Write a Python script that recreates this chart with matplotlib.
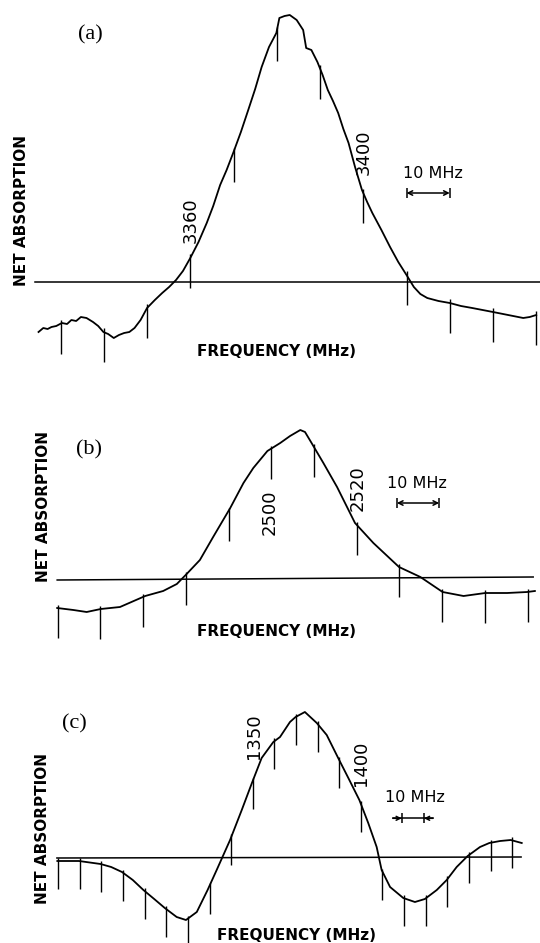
import matplotlib
matplotlib.use("Agg")
import matplotlib.pyplot as plt
import numpy as np

# ---- data (frequency in MHz, net absorption in arb. units) ----
# panel (a)
freq_a = [3324.9, 3326.0, 3327.0, 3327.9, 3329.0, 3330.3, 3331.5, 3332.5, 3333.6, 3334.7,
          3336.0, 3337.5, 3338.7, 3339.9, 3341.0, 3342.3, 3343.5, 3344.7, 3345.9, 3347.1,
          3348.5, 3350.0, 3351.8, 3353.5, 3355.1, 3356.7, 3358.3, 3360.0, 3361.9, 3363.8,
          3365.3, 3366.9, 3368.4, 3370.0, 3371.7, 3373.4, 3375.0, 3376.5, 3378.2, 3379.9,
          3380.6, 3381.8, 3383.0, 3384.6, 3386.1, 3386.8, 3388.0, 3389.4, 3390.6, 3391.8,
          3393.0, 3394.2, 3395.4, 3396.6, 3398.1, 3399.7, 3400.9, 3402.1, 3404.2, 3406.2,
          3408.1, 3410.0, 3411.7, 3413.2, 3414.8, 3417.4, 3420.0, 3422.6, 3425.2, 3427.6,
          3430.0, 3433.5, 3437.0, 3438.5, 3440.0]
abs_a = [-50, -46, -47, -45, -44, -41, -42, -38, -39, -35,
         -36, -40, -44, -50, -52, -56, -53, -51, -50, -46,
         -38, -26, -18, -11, -5, 2, 11, 24, 40, 59,
         76, 97, 112, 130, 150, 172, 193, 215, 235, 249,
         264, 266, 267, 262, 252, 234, 232, 220, 207, 192,
         181, 169, 153, 139, 115, 92, 80, 69, 52, 35,
         20, 7, -5, -12, -16, -19, -21, -24, -26, -28,
         -30, -33, -36, -35, -33]
marks_a = [3330, 3340, 3350, 3360, 3370, 3380, 3390, 3400, 3410, 3420, 3430, 3440]
base_a = ([3324.1, 3441.0], [0, 0])

# panel (b)
freq_b = [2449.9, 2453.7, 2456.8, 2460.1, 2464.6, 2470.5, 2474.7, 2477.9, 2480.2, 2483.3,
          2486.4, 2490.4, 2493.5, 2495.8, 2499.1, 2502.1, 2504.4, 2506.8, 2507.9, 2509.3,
          2512.2, 2515.4, 2519.6, 2523.9, 2529.9, 2534.9, 2540.1, 2545.0, 2550.1, 2555.2,
          2559.9, 2561.7]
abs_b = [-28, -30, -32, -29, -27, -16, -11, -4, 6, 20,
         43, 72, 97, 112, 129, 137, 144, 150, 148, 138,
         117, 93, 57, 37, 13, 3, -12, -16, -13, -13,
         -12, -11]
marks_b = [2450, 2460, 2470, 2480, 2490, 2500, 2510, 2520, 2530, 2540, 2550, 2560]
base_b = ([2449.9, 2561.3], [0, 3])

# panel (c)
freq_c = [1259.6, 1269.6, 1279.6, 1284.5, 1289.5, 1294.5, 1299.4, 1304.4, 1309.3, 1314.8,
          1319.1, 1324.1, 1329.1, 1333.3, 1339.5, 1344.9, 1349.6, 1354.1, 1359.5, 1362.6,
          1367.2, 1369.8, 1374.1, 1379.6, 1384.2, 1389.5, 1394.2, 1399.3, 1403.4, 1407.3,
          1409.6, 1413.5, 1419.6, 1425.0, 1429.6, 1435.1, 1439.7, 1444.3, 1449.4, 1455.1,
          1459.4, 1464.4, 1469.3, 1474.4]
abs_c = [-3, -3, -6, -9, -14, -22, -32, -41, -50, -59,
         -62, -54, -32, -12, 18, 48, 75, 100, 116, 121,
         136, 141, 146, 135, 123, 100, 80, 58, 35, 11,
         -12, -29, -40, -44, -41, -32, -22, -9, 2, 11,
         15, 17, 18, 15]
marks_c = [1260, 1270, 1280, 1290, 1300, 1310, 1320, 1330, 1340, 1350, 1360,
           1370, 1380, 1390, 1400, 1410, 1420, 1430, 1440, 1450, 1460, 1470]
base_c = ([1259.4, 1474.1], [0, 1])

# frequency labels written on the traces
labels_a = ["3360", "3400"]
labels_b = ["2500", "2520"]
labels_c = ["1350", "1400"]

# ---- figure ----
W, H = 540, 943
fig = plt.figure(figsize=(W / 100, H / 100), dpi=100)
fig.patch.set_facecolor("white")


def add_panel(top, bottom, base_px, f_ref, x_ref, k):
    # one full-width axes per panel, scaled so 1 arb. unit = 1 px vertically
    ax = fig.add_axes([0, 1 - bottom / H, 1, (bottom - top) / H])
    ax.set_xlim(f_ref - x_ref / k, f_ref + (W - x_ref) / k)
    ax.set_ylim(base_px - bottom, base_px - top)
    ax.axis("off")
    return ax


def draw_trace(ax, freq, absorb, marks, base, up, down):
    ax.plot(base[0], base[1], color="black", lw=1.1)
    ax.plot(freq, absorb, color="black", lw=1.3, solid_joinstyle="round")
    at = np.interp(marks, freq, absorb)
    ax.vlines(marks, at - down, at + up, color="black", lw=1.0)


def scale_bar(ax, x0, x1, y):
    ax.annotate("", xy=(x0, y), xytext=(x1, y),
                arrowprops=dict(arrowstyle="<->", lw=1.1, color="black",
                                shrinkA=0, shrinkB=0, mutation_scale=8))
    ax.vlines([x0, x1], y - 5, y + 5, color="black", lw=1.1)


sans = "DejaVu Sans"
lab_kw = dict(rotation=90, ha="center", va="center", fontsize=13, family=sans)
mhz_kw = dict(ha="center", va="center", fontsize=11.5, family=sans)
axis_kw = dict(ha="center", va="center", fontsize=11, fontweight="bold", family=sans)
letter_kw = dict(ha="center", va="center", fontsize=16, family="Liberation Serif")

# (a)
ax = add_panel(0, 370, 282, 3360, 190.3, 4.324)
draw_trace(ax, freq_a, abs_a, marks_a, base_a, 4, 30)
ax.text(3336.8, 247, "(a)", **letter_kw)
ax.text(3360, 62, labels_a[0], **lab_kw)
ax.text(3400.2, 130, labels_a[1], **lab_kw)
ax.text(3416.1, 109, "10 MHz", **mhz_kw)
scale_bar(ax, 3410, 3420, 89)
ax.text(3320.9, 71, "NET ABSORPTION", rotation=90, **axis_kw)
ax.text(3379.9, -70, "FREQUENCY (MHz)", **axis_kw)

# (b)
ax = add_panel(370, 650, 580, 2450, 57.6, 4.273)
draw_trace(ax, freq_b, abs_b, marks_b, base_b, 3, 30)
ax.text(2457.3, 130, "(b)", **letter_kw)
ax.text(2499.7, 68, labels_b[0], **lab_kw)
ax.text(2520.1, 91.5, labels_b[1], **lab_kw)
ax.text(2534.2, 96, "10 MHz", **mhz_kw)
scale_bar(ax, 2529.4, 2539.3, 77)
ax.text(2446.6, 74, "NET ABSORPTION", rotation=90, **axis_kw)
ax.text(2501.3, -52, "FREQUENCY (MHz)", **axis_kw)

# (c)
ax = add_panel(650, 943, 858, 1260, 58.2, 2.162)
draw_trace(ax, freq_c, abs_c, marks_c, base_c, 3, 28)
ax.text(1267.3, 134.5, "(c)", **letter_kw)
ax.text(1350.6, 122, labels_c[0], **lab_kw)
ax.text(1400.0, 94.5, labels_c[1], **lab_kw)
ax.text(1425.0, 60, "10 MHz", **mhz_kw)
ax.plot([1414.8, 1433.3], [39.7, 39.7], color="black", lw=1.1)
ax.vlines([1418.9, 1429.2], 34.7, 44.7, color="black", lw=1.1)
for x0, x1 in [(1414.8, 1418.9), (1433.3, 1429.2)]:
    ax.annotate("", xy=(x1, 39.7), xytext=(x0, 39.7),
                arrowprops=dict(arrowstyle="->", lw=1.1, color="black",
                                shrinkA=0, shrinkB=0, mutation_scale=7))
ax.text(1252.9, 30, "NET ABSORPTION", rotation=90, **axis_kw)
ax.text(1370.1, -77, "FREQUENCY (MHz)", **axis_kw)

fig.savefig("out.png", dpi=100, facecolor="white")
